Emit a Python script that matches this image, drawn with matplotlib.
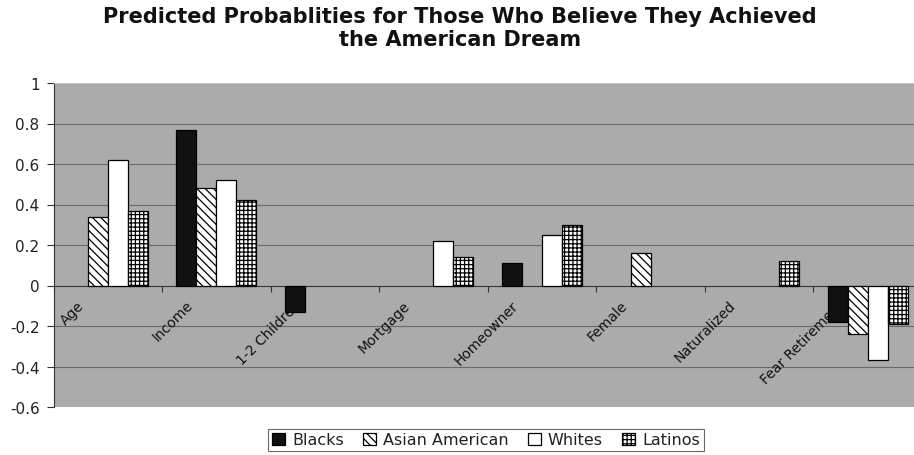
import numpy as np
import matplotlib
matplotlib.use('Agg')
import matplotlib.pyplot as plt

# predicted probabilities by group (nan = no bar shown)
categories = ['Age', 'Income', '1-2 Children', 'Mortgage', 'Homeowner',
              'Female', 'Naturalized', 'Fear Retirement']
blacks = [np.nan, 0.77, -0.13, np.nan, 0.11, np.nan, np.nan, -0.18]
asian_american = [0.34, 0.48, np.nan, np.nan, np.nan, 0.16, np.nan, -0.24]
whites = [0.62, 0.52, np.nan, 0.22, 0.25, np.nan, np.nan, -0.37]
latinos = [0.37, 0.42, np.nan, 0.14, 0.30, np.nan, 0.12, -0.19]

series_names = ['Blacks', 'Asian American', 'Whites', 'Latinos']
y_ticks = [1, 0.8, 0.6, 0.4, 0.2, 0, -0.2, -0.4, -0.6]

plt.rcParams['font.family'] = ['DejaVu Sans']
plt.rcParams['hatch.linewidth'] = 0.9

fig = plt.figure(figsize=(9.14, 4.56), dpi=100)
ax = fig.add_axes([53.5 / 914, 48 / 456, 868.5 / 914, 324 / 456])
ax.set_facecolor('#ababab')

x = np.arange(len(categories))
w = 0.184
styles = [
    dict(color='#111111', edgecolor='black'),
    dict(color='white', edgecolor='black', hatch='\\\\\\\\'),
    dict(color='white', edgecolor='black'),
    dict(color='white', edgecolor='black', hatch='++++'),
]
all_series = [blacks, asian_american, whites, latinos]
handles = []
for j, (vals, st) in enumerate(zip(all_series, styles)):
    b = ax.bar(x + (j - 1.5) * w + 0.5, vals, w, linewidth=0.9, zorder=3, **st)
    handles.append(b)

ax.set_xlim(0, len(categories))
ax.set_ylim(-0.6, 1)
ax.set_yticks(y_ticks)
ax.set_yticklabels(['1', '0.8', '0.6', '0.4', '0.2', '0', '-0.2', '-0.4', '-0.6'],
                   fontsize=11, color='#222222')
ax.tick_params(axis='y', direction='out', length=5, width=0.8, color='#333333', pad=5)

for yv in y_ticks:
    if yv not in (0, -0.6):
        ax.axhline(yv, color='#6a6a6a', lw=0.8, zorder=1)
ax.axhline(-0.6, color='#c8c8c8', lw=0.8, zorder=1)

# category axis sits on the zero line
ax.spines['bottom'].set_position(('data', 0))
ax.spines['bottom'].set_color('#333333')
ax.spines['bottom'].set_zorder(2)
ax.set_xticks(np.arange(len(categories) + 1))
ax.set_xticklabels([])
ax.tick_params(axis='x', direction='out', length=4, width=0.8, color='#333333')
ax.spines['left'].set_color('#333333')
ax.spines['top'].set_color('#c8c8c8')
ax.spines['right'].set_visible(False)

for i, name in enumerate(categories):
    ax.text(i + 0.31, -0.06, name, rotation=45, ha='right', va='top',
            fontsize=10, color='#111111', zorder=2)

fig.text(460 / 914, 1 - 7 / 456,
         'Predicted Probablities for Those Who Believe They Achieved\nthe American Dream',
         ha='center', va='top', fontsize=15, fontweight='bold',
         linespacing=1.2, color='#111111')

leg = fig.legend(handles, series_names, loc='center', ncol=4,
                 bbox_to_anchor=(486 / 914, 1 - 441 / 456), fontsize=11.5,
                 frameon=True, fancybox=False, edgecolor='#444444',
                 handlelength=0.8, handleheight=0.8, handletextpad=0.45,
                 columnspacing=1.2, borderpad=0.25, borderaxespad=0)
leg.get_frame().set_linewidth(0.8)
for t in leg.get_texts():
    t.set_color('#222222')

fig.savefig('out.png', dpi=100)
